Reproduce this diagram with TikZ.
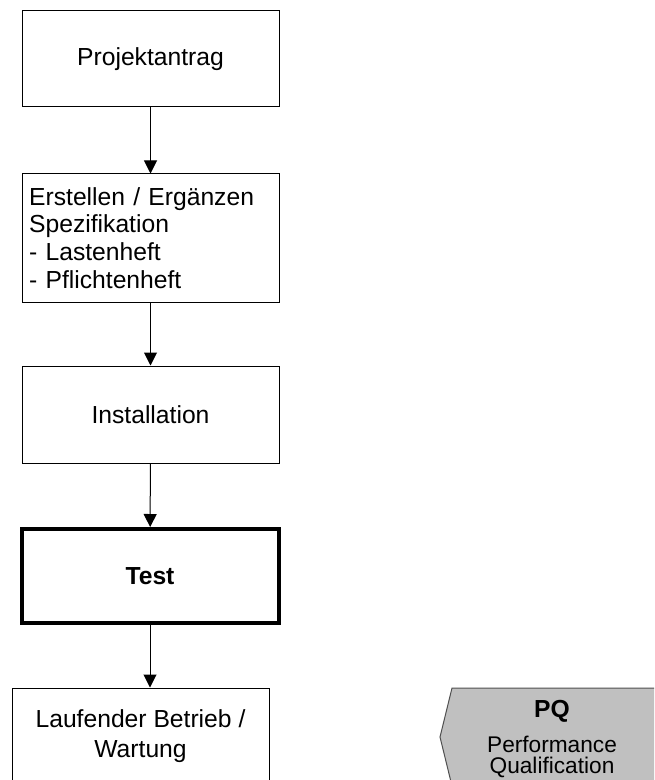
\documentclass[tikz,border=0pt]{standalone}
\usepackage{fontspec}
\setmainfont{Liberation Sans}
\usetikzlibrary{arrows.meta}
\begin{document}
\begin{tikzpicture}[x=0.75pt, y=-0.75pt,
    kasten/.style={draw, line width=0.75pt, minimum width=192.75pt, minimum height=72pt,
        inner sep=0pt, align=center, font=\fontsize{18.5}{20.8}\selectfont},
    pfeil/.style={-{Triangle[length=9.75pt,width=9.75pt]}, line width=0.75pt}]
    % Rahmen
    \useasboundingbox (0,0) rectangle (654,780);
    \clip (0,0) rectangle (654,780);

    % Kaesten
    \node[kasten] (antrag) at (150.5,59) {Projektantrag};
    \node[kasten, minimum height=96pt, text width=182pt, align=left] (spez) at (150.5,238)
        {Erstellen / Ergänzen\\Spezifikation\\- Lastenheft\\- Pflichtenheft};
    \node[kasten, minimum height=72.75pt] (install) at (150.5,414.5) {Installation};
    \node[kasten, line width=3pt, minimum height=70.5pt, font=\fontsize{18.5}{20.8}\selectfont\bfseries] (test) at (150,576) {Test};
    \node[kasten, font=\fontsize{18.5}{22.5}\selectfont] (betrieb) at (140.5,736) {Laufender Betrieb /\\Wartung};

    % Pfeile
    \draw[pfeil] (antrag) -- (spez);
    \draw[pfeil] (spez) -- (install);
    \draw[pfeil] (install) -- (test);
    \draw[pfeil] (test.south) -- (test.south |- betrieb.north);

    % PQ-Feld
    \draw[fill={rgb,255:red,192;green,192;blue,192}, draw={rgb,255:red,80;green,80;blue,80}, line width=0.75pt]
        (452,688) -- (670,688) -- (670,786) -- (452,786) -- (440,737) -- cycle;
    \node[align=center, font=\fontsize{17}{15.75}\selectfont] (pq) at (552,739)
        {{\fontsize{18.5}{15.75}\selectfont\bfseries PQ}\\[9.75pt]Performance\\Qualification};
\end{tikzpicture}
\end{document}
